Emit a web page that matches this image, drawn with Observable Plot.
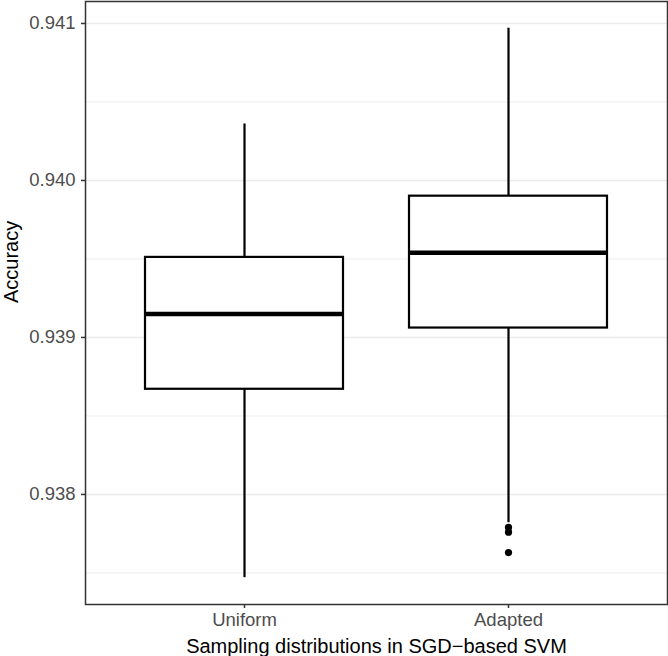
<!DOCTYPE html>
<html>
<head>
<meta charset="utf-8">
<script src="https://cdn.jsdelivr.net/npm/d3@7"></script>
<script src="https://cdn.jsdelivr.net/npm/@observablehq/plot@0.6"></script>
<style>
  html, body { margin: 0; padding: 0; background: #fff; }
  svg { display: block; }
</style>
</head>
<body>
<div id="chart"></div>
<script>
// ---- data ----
const categories = ["Uniform", "Adapted"];
const lowerWhisker = [0.93747, 0.93782];
const q1 = [0.93867, 0.93906];
const median = [0.93915, 0.93954];
const q3 = [0.93951, 0.93990];
const upperWhisker = [0.94036, 0.94097];
const outlierGroup = ["Adapted", "Adapted", "Adapted"];
const outlierValue = [0.93779, 0.93776, 0.93763];
const majorTicks = [0.938, 0.939, 0.940, 0.941];
const minorTicks = [0.9375, 0.9385, 0.9395, 0.9405];
const xTitle = "Sampling distributions in SGD\u2212based SVM";
const yTitle = "Accuracy";

const boxes = categories.map((c, i) => ({
  group: c, lo: lowerWhisker[i], q1: q1[i], med: median[i], q3: q3[i], hi: upperWhisker[i]
}));
const outliers = outlierGroup.map((g, i) => ({group: g, value: outlierValue[i]}));

const font = "'Liberation Sans', Arial, Helvetica, sans-serif";

const chart = Plot.plot({
  width: 668,
  height: 656,
  marginLeft: 85,
  marginRight: 1,
  marginTop: 1,
  marginBottom: 52,
  style: {fontFamily: font, background: "#fff"},
  x: {type: "band", domain: categories, paddingInner: 0.25, paddingOuter: 0.225, label: null},
  y: {domain: [0.937299, 0.941140], label: null},
  marks: [
    Plot.gridY(minorTicks, {stroke: "#ebebeb", strokeOpacity: 1, strokeWidth: 0.9}),
    Plot.gridY(majorTicks, {stroke: "#ebebeb", strokeOpacity: 1, strokeWidth: 1.5}),
    Plot.ruleX(boxes, {x: "group", y1: "q3", y2: "hi", stroke: "#000", strokeWidth: 2.2}),
    Plot.ruleX(boxes, {x: "group", y1: "lo", y2: "q1", stroke: "#000", strokeWidth: 2.2}),
    Plot.barY(boxes, {x: "group", y1: "q1", y2: "q3", fill: "#fff", stroke: "#000", strokeWidth: 2.2}),
    Plot.tickY(boxes, {x: "group", y: "med", stroke: "#000", strokeWidth: 4.5}),
    Plot.dot(outliers, {x: "group", y: "value", r: 3.6, fill: "#000", stroke: "none"}),
    Plot.axisY(majorTicks, {tickSize: 4, tickFormat: () => "", color: "#333", strokeWidth: 1.5, label: null}),
    Plot.axisY(majorTicks, {tickSize: 0, tickPadding: 10, tickFormat: d3.format(".3f"), color: "#4d4d4d", fontSize: 18.5, label: null}),
    Plot.axisX({tickSize: 4, tickFormat: () => "", color: "#333", strokeWidth: 1.5, label: null}),
    Plot.axisX({tickSize: 0, tickPadding: 8, color: "#4d4d4d", fontSize: 18.5, label: null}),
    Plot.text([yTitle], {text: d => d, frameAnchor: "left", dx: -74, rotate: -90, fontSize: 20, fill: "#000"}),
    Plot.text([xTitle], {text: d => d, frameAnchor: "bottom", dy: 42, lineAnchor: "middle", fontSize: 20, fill: "#000"}),
    Plot.frame({stroke: "#333", strokeWidth: 1.5})
  ]
});
document.getElementById("chart").appendChild(chart);
</script>
</body>
</html>
